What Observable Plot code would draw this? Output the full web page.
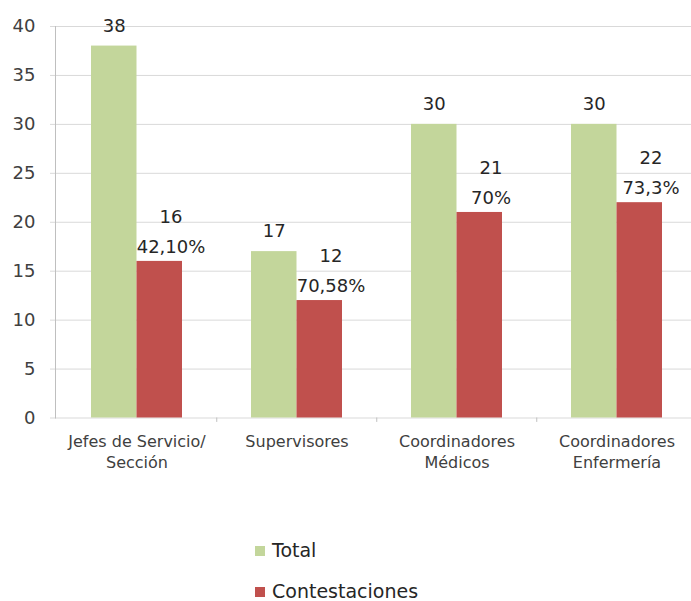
<!DOCTYPE html>
<html>
<head>
<meta charset="utf-8">
<script src="https://cdn.jsdelivr.net/npm/d3@7"></script>
<script src="https://cdn.jsdelivr.net/npm/@observablehq/plot@0.6"></script>
<style>
  html, body { margin: 0; padding: 0; background: white; }
  #chart { width: 691px; }
  .legend { font-family: "DejaVu Sans", sans-serif; font-size: 19px; color: #262626; padding-left: 255px; margin-top: 30px; }
  .legend .item { height: 41px; line-height: 41px; display: flex; align-items: center; }
  .legend .sw { width: 10px; height: 10px; margin-right: 7px; display: inline-block; }
</style>
</head>
<body>
<div id="chart"></div>
<script>
const categories = ["Jefes de Servicio/\nSección", "Supervisores", "Coordinadores\nMédicos", "Coordinadores\nEnfermería"];
const total = [38, 17, 30, 30];
const contestaciones = [16, 12, 21, 22];
const pctLabels = ["42,10%", "70,58%", "70%", "73,3%"];
const yTicks = [0, 5, 10, 15, 20, 25, 30, 35, 40];
const seriesNames = ["Total", "Contestaciones"];
const seriesColors = ["#c3d69b", "#c0504d"];

const rows = categories.map((c, i) => ({cat: c, total: total[i], cont: contestaciones[i], pct: pctLabels[i]}));

const chart = Plot.plot({
  width: 691,
  height: 500,
  marginLeft: 55,
  marginRight: 0,
  marginTop: 26,
  marginBottom: 82.5,
  x: {type: "band", domain: categories, range: [55, 697], paddingInner: 0.433, paddingOuter: 0.2165, label: null},
  y: {domain: [0, 40], label: null},
  style: {fontFamily: "DejaVu Sans, sans-serif", background: "white", overflow: "visible"},
  marks: [
    Plot.ruleY(yTicks, {stroke: "#d9d9d9", strokeWidth: 1}),
    Plot.frame({anchor: "left", stroke: "#bfbfbf"}),
    Plot.axisY(yTicks, {tickSize: 5, tickPadding: 15, stroke: "#d9d9d9", fill: "#404040", fontSize: 18, label: null}),
    Plot.ruleX(categories.slice(1), {y1: 0, y2: -0.45, dx: -80.25, stroke: "#bfbfbf"}),
    Plot.axisX({tickSize: 0, tickPadding: 14, fontSize: 16, lineHeight: 1.3, fill: "#404040", label: null}),
    Plot.barY(rows, {x: "cat", y: "total", fill: seriesColors[0], insetRight: 45.5, insetLeft: 0}),
    Plot.barY(rows, {x: "cat", y: "cont", fill: seriesColors[1], insetLeft: 45.5, insetRight: 0}),
    Plot.text(rows, {x: "cat", y: "total", text: d => String(d.total), dx: -22.75, dy: -20, fontSize: 18, fill: "#262626", lineAnchor: "middle"}),
    Plot.text(rows, {x: "cat", y: "cont", text: d => d.cont + "\n" + d.pct, dx: 34, dy: -33, fontSize: 18, lineHeight: 1.67, fill: "#262626", lineAnchor: "middle"})
  ]
});
document.getElementById("chart").appendChild(chart);

const legend = document.createElement("div");
legend.className = "legend";
seriesNames.forEach((name, i) => {
  const item = document.createElement("div");
  item.className = "item";
  const sw = document.createElement("span");
  sw.className = "sw";
  sw.style.background = seriesColors[i];
  item.appendChild(sw);
  item.appendChild(document.createTextNode(name));
  legend.appendChild(item);
});
document.body.appendChild(legend);
</script>
</body>
</html>
